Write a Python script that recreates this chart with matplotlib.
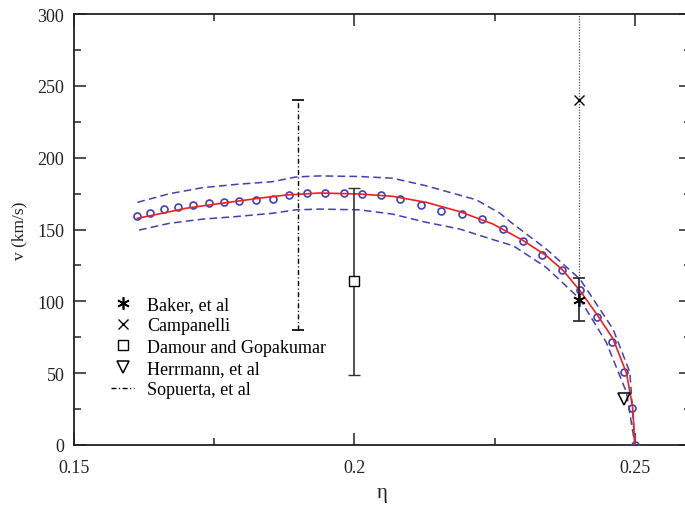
import matplotlib
matplotlib.use("Agg")
import matplotlib.pyplot as plt
from matplotlib.lines import Line2D
from matplotlib.ticker import FixedLocator, FixedFormatter

plt.rcParams['font.family'] = ['Liberation Serif', 'DejaVu Serif']
plt.rcParams['mathtext.fontset'] = 'stix'

# Numerical-relativity recoil velocities (circles)
eta_nr = [0.1612, 0.1636, 0.1661, 0.1686, 0.1713, 0.1740, 0.1767, 0.1795,
          0.1824, 0.1854, 0.1884, 0.1916, 0.1948, 0.1981, 0.2014, 0.2048,
          0.2082, 0.2119, 0.2155, 0.2191, 0.2227, 0.2264, 0.2300, 0.2335,
          0.2370, 0.2402, 0.2433, 0.2459, 0.2480, 0.2495, 0.2500]
v_nr = [159.4, 161.5, 164.1, 165.7, 167.3, 168.4, 169.3, 169.8,
        170.3, 171.4, 174.2, 175.4, 175.2, 175.2, 174.9, 174.0,
        171.4, 167.0, 162.9, 160.6, 157.5, 150.1, 141.8, 132.5,
        122.0, 107.7, 89.3, 71.5, 50.6, 25.8, 0.0]

# Fitted curve (red)
eta_fit = [0.1613, 0.1660, 0.1700, 0.1745, 0.1789, 0.1833, 0.1878, 0.1938,
           0.2009, 0.2068, 0.2128, 0.2188, 0.2247, 0.2300, 0.2342, 0.2372,
           0.2402, 0.2432, 0.2461, 0.2485, 0.2496, 0.2500]
v_fit = [157.8, 161.5, 164.8, 167.3, 169.6, 171.9, 174.0, 175.4,
         174.7, 173.1, 168.9, 162.4, 153.8, 142.5, 131.8, 121.5,
         107.4, 91.0, 74.0, 50.0, 26.0, 0.0]

# Error band (blue dashed)
eta_up = [0.1613, 0.1670, 0.1729, 0.1789, 0.1854, 0.1896, 0.1938, 0.2009,
          0.2068, 0.2128, 0.2217, 0.2259, 0.2283, 0.2342, 0.2402, 0.2461,
          0.2491, 0.2500]
v_up = [168.9, 174.9, 179.1, 181.4, 183.3, 186.6, 187.3, 186.9,
        185.7, 180.4, 170.7, 161.4, 153.8, 136.4, 115.5, 80.7,
        50.6, 0.0]
eta_lo = [0.1616, 0.1670, 0.1729, 0.1789, 0.1854, 0.1896, 0.1938, 0.2009,
          0.2068, 0.2128, 0.2188, 0.2253, 0.2283, 0.2342, 0.2402, 0.2449,
          0.2485, 0.2500]
v_lo = [149.6, 154.3, 157.2, 159.0, 161.3, 163.7, 164.2, 163.7,
        160.7, 155.0, 150.3, 142.2, 138.7, 123.6, 101.6, 71.4,
        36.7, 0.0]

# Other estimates
baker_eta, baker_v, baker_err = 0.24, 101.0, 15.0
camp_eta, camp_v, camp_err = 0.24, 240.0, 124.0
damour_eta, damour_v, damour_err = 0.20, 114.0, 65.0
herr_eta, herr_v = 0.248, 32.0
sop_eta, sop_v, sop_err = 0.19, 160.0, 80.0

x_major = [0.15, 0.2, 0.25]
x_major_labels = ['0.15', '0.2', '0.25']
x_minor = [0.175, 0.225]
y_major = [0, 50, 100, 150, 200, 250, 300]
y_minor = [25, 75, 125, 175, 225, 275]

W, H = 685, 506
fig = plt.figure(figsize=(W / 100, H / 100), dpi=100)
ax = fig.add_axes([74 / W, 1 - 446 / H, (691 - 74) / W, (446 - 15) / H])

blue = '#4040b4'
red = '#ee2020'

ax.plot(eta_up, v_up, color=blue, lw=1.1, ls=(0, (5, 2.8)), zorder=2)
ax.plot(eta_lo, v_lo, color=blue, lw=1.1, ls=(0, (5, 2.8)), zorder=2)
ax.plot(eta_nr, v_nr, ls='none', marker='o', ms=5.0, mfc='none',
        mec=blue, mew=1.2, zorder=3)
ax.plot(eta_fit, v_fit, color=red, lw=1.2, zorder=4)

sop_dash = (0, (3.6, 1.8, 0.8, 1.8))
eb = ax.errorbar([sop_eta], [sop_v], yerr=[sop_err], fmt='none', ecolor='black',
                 elinewidth=1.0, capsize=4.3, capthick=1.2, zorder=5)
eb[2][0].set_linestyle(sop_dash)

eb = ax.errorbar([camp_eta], [camp_v], yerr=[camp_err], fmt='x', color='black',
                 ms=7, mew=1.0, ecolor='#555555', elinewidth=0.9,
                 capsize=0, zorder=5)
eb[2][0].set_linestyle((0, (1, 1.2)))

ax.errorbar([damour_eta], [damour_v], yerr=[damour_err], fmt='s', color='black',
            ms=7.5, mfc='white', mew=1.0, ecolor='#333333', elinewidth=1.2,
            capsize=4.3, capthick=1.2, zorder=5)

ax.errorbar([baker_eta], [baker_v], yerr=[baker_err], fmt='none',
            ecolor='#222222', elinewidth=1.2, capsize=4.3, capthick=1.2, zorder=5)
ax.plot([baker_eta], [baker_v], ls='none', marker=(6, 2, 0), ms=9,
        mec='black', mew=1.2, zorder=6)

ax.plot([herr_eta], [herr_v], ls='none', marker='v', ms=9, mfc='none',
        mec='black', mew=1.1, zorder=6)

ax.set_xlim(0.15, 0.26)
ax.set_ylim(0, 300)

ax.xaxis.set_major_locator(FixedLocator(x_major))
ax.xaxis.set_major_formatter(FixedFormatter(x_major_labels))
ax.xaxis.set_minor_locator(FixedLocator(x_minor))
ax.yaxis.set_major_locator(FixedLocator(y_major))
ax.yaxis.set_minor_locator(FixedLocator(y_minor))

ax.tick_params(which='both', direction='in', top=True, right=True,
               width=1.1, colors='#222222')
ax.tick_params(which='major', length=8.5, labelsize=13, labelcolor='#222222')
ax.tick_params(axis='x', which='major', pad=10)
ax.tick_params(axis='y', which='major', pad=7)
ax.tick_params(which='minor', length=5)
for s in ax.spines.values():
    s.set_linewidth(1.3)
    s.set_color('#222222')

ax.set_xlabel('η', fontsize=15, color='#222222', labelpad=5)
ax.set_ylabel('v (km/s)', fontsize=12.5, color='#222222', labelpad=7)

handles = [
    Line2D([], [], ls='none', marker=(6, 2, 0), ms=9, mec='black', mew=1.2),
    Line2D([], [], ls='none', marker='x', ms=7, mec='black', mew=1.0),
    Line2D([], [], ls='none', marker='s', ms=7.5, mfc='white', mec='black', mew=1.0),
    Line2D([], [], ls='none', marker='v', ms=9, mfc='none', mec='black', mew=1.1),
    Line2D([], [], color='black', lw=1.0, ls=sop_dash),
]
labels = ['Baker, et al', 'Campanelli', 'Damour and Gopakumar',
          'Herrmann, et al', 'Sopuerta, et al']
ax.legend(handles, labels, loc='upper left', frameon=False, fontsize=13,
          handlelength=1.3, handletextpad=0.72, labelspacing=0.24,
          borderpad=0, borderaxespad=0,
          bbox_to_anchor=(111 / W, 1 - 297 / H), bbox_transform=fig.transFigure)

fig.savefig('out.png', dpi=100)
